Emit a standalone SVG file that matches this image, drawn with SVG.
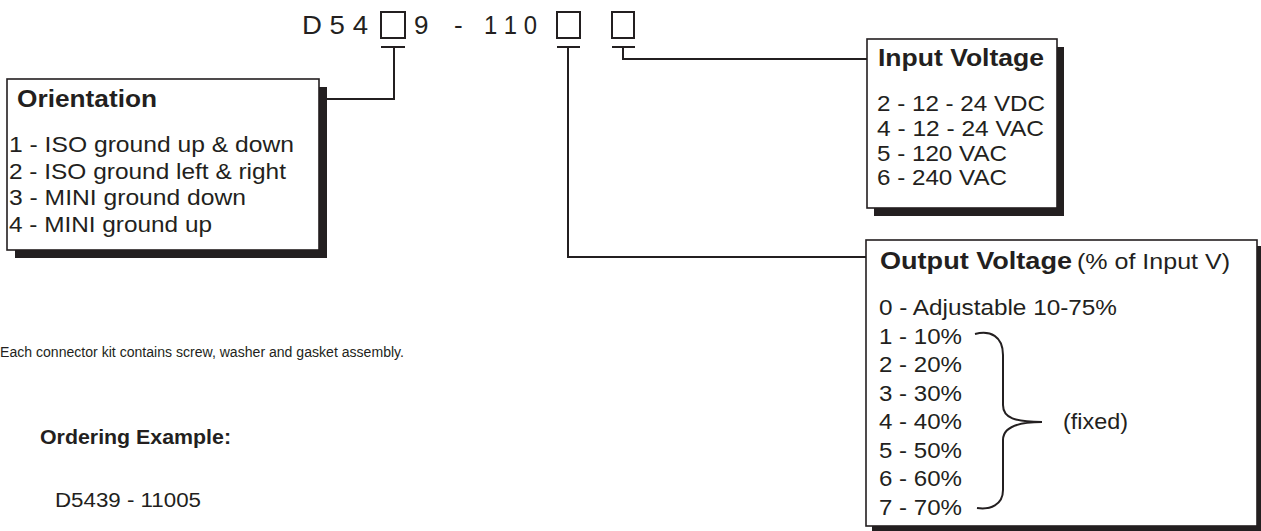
<svg xmlns="http://www.w3.org/2000/svg" width="1261" height="531" viewBox="0 0 1261 531">
<style>
text{font-family:"Liberation Sans",Arial,Helvetica,sans-serif;fill:#231f20}
.t{font-size:24px;font-weight:bold}
.i{font-size:22px}
.c{font-size:26px}
.box{fill:#fff;stroke:#231f20;stroke-width:1.6}
.sh{fill:#231f20}
.ln{fill:none;stroke:#231f20;stroke-width:2}
</style>
<rect width="1261" height="531" fill="#fff"/>
<g id="code">
<text class="c" x="302" y="34" textLength="66" lengthAdjust="spacingAndGlyphs">D 5 4</text>
<rect class="ln" x="381" y="12" width="24" height="26"/>
<text class="c" x="414" y="34">9</text>
<text class="c" x="454" y="34">-</text>
<text class="c" x="484" y="34" textLength="53" lengthAdjust="spacingAndGlyphs">1 1 0</text>
<rect class="ln" x="557" y="12" width="23" height="26"/>
<rect class="ln" x="612" y="12" width="22" height="26"/>
</g>
<g id="connectors">
<path class="ln" d="M381,47H405M394,47V99H327"/>
<path class="ln" d="M557,47H580M568,47V257H866"/>
<path class="ln" d="M612,47H635M623,47V59H867"/>
</g>
<g id="orientation">
<rect class="sh" x="15" y="87" width="312" height="171"/>
<rect class="box" x="7" y="79" width="312" height="171"/>
<text class="t" x="17" y="107" textLength="140" lengthAdjust="spacingAndGlyphs">Orientation</text>
<text class="i" x="9" y="152" textLength="285" lengthAdjust="spacingAndGlyphs">1 - ISO ground up &amp; down</text>
<text class="i" x="9" y="178.5" textLength="277" lengthAdjust="spacingAndGlyphs">2 - ISO ground left &amp; right</text>
<text class="i" x="9" y="205" textLength="237" lengthAdjust="spacingAndGlyphs">3 - MINI ground down</text>
<text class="i" x="9" y="232" textLength="203" lengthAdjust="spacingAndGlyphs">4 - MINI ground up</text>
</g>
<g id="input">
<rect class="sh" x="874" y="47" width="190" height="169"/>
<rect class="box" x="867" y="39" width="190" height="169"/>
<text class="t" x="878" y="66" textLength="166" lengthAdjust="spacingAndGlyphs">Input Voltage</text>
<text class="i" x="877" y="111" textLength="168" lengthAdjust="spacingAndGlyphs">2 - 12 - 24 VDC</text>
<text class="i" x="877" y="136" textLength="167" lengthAdjust="spacingAndGlyphs">4 - 12 - 24 VAC</text>
<text class="i" x="877" y="160.5" textLength="130" lengthAdjust="spacingAndGlyphs">5 - 120 VAC</text>
<text class="i" x="877" y="185" textLength="130" lengthAdjust="spacingAndGlyphs">6 - 240 VAC</text>
</g>
<g id="output">
<rect class="sh" x="872" y="246" width="391" height="286"/>
<rect class="box" x="866" y="240" width="391" height="286"/>
<text class="t" x="880" y="269" textLength="192" lengthAdjust="spacingAndGlyphs">Output Voltage</text>
<text class="i" x="1077" y="269" textLength="153" lengthAdjust="spacingAndGlyphs">(% of Input V)</text>
<text class="i" x="879" y="315" textLength="238" lengthAdjust="spacingAndGlyphs">0 - Adjustable 10-75%</text>
<text class="i" x="879" y="344" textLength="83" lengthAdjust="spacingAndGlyphs">1 - 10%</text>
<text class="i" x="879" y="372" textLength="83" lengthAdjust="spacingAndGlyphs">2 - 20%</text>
<text class="i" x="879" y="401" textLength="83" lengthAdjust="spacingAndGlyphs">3 - 30%</text>
<text class="i" x="879" y="429" textLength="83" lengthAdjust="spacingAndGlyphs">4 - 40%</text>
<text class="i" x="879" y="458" textLength="83" lengthAdjust="spacingAndGlyphs">5 - 50%</text>
<text class="i" x="879" y="486" textLength="83" lengthAdjust="spacingAndGlyphs">6 - 60%</text>
<text class="i" x="879" y="515" textLength="83" lengthAdjust="spacingAndGlyphs">7 - 70%</text>
<path class="ln" d="M975,334C990,330 1003,336 1003,355L1003,405C1003,418 1015,422 1042,422C1015,422 1003,428 1003,440L1003,490C1003,505 990,510 977,508"/>
<text class="i" x="1063" y="429" textLength="65" lengthAdjust="spacingAndGlyphs">(fixed)</text>
</g>
<g id="notes">
<text x="0" y="357" font-size="15.5" textLength="404" lengthAdjust="spacingAndGlyphs">Each connector kit contains screw, washer and gasket assembly.</text>
<text x="40" y="444" font-size="21" font-weight="bold" textLength="191" lengthAdjust="spacingAndGlyphs">Ordering Example:</text>
<text x="55" y="507" font-size="20.5" textLength="146" lengthAdjust="spacingAndGlyphs">D5439 - 11005</text>
</g>
</svg>
